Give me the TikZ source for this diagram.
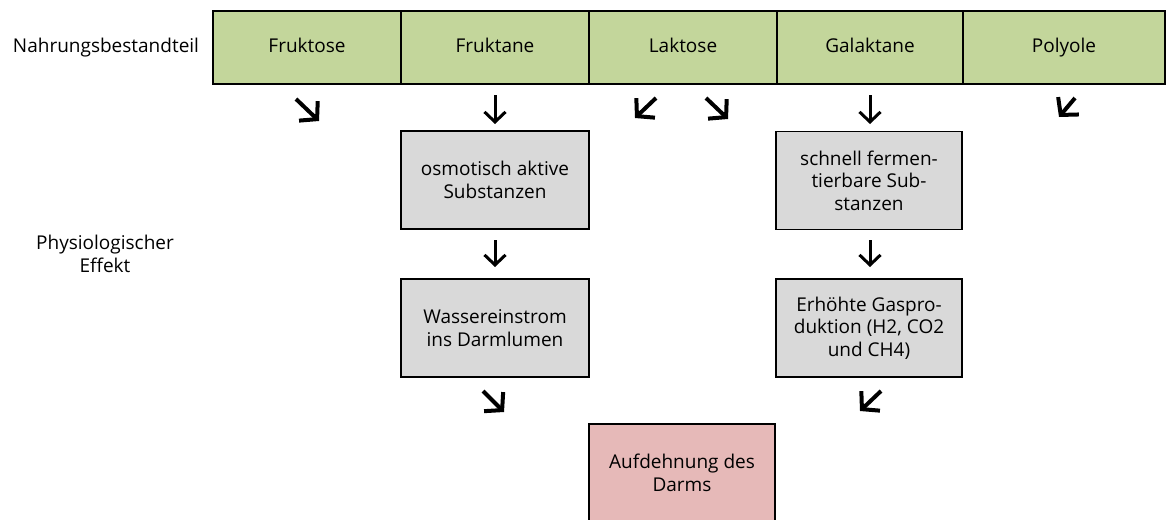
\documentclass[tikz,border=0pt]{standalone}
\usepackage{fontspec}
\setmainfont{Open Sans}
\usetikzlibrary{arrows.meta}
\definecolor{grn}{HTML}{C3D69B}
\definecolor{gry}{HTML}{D9D9D9}
\definecolor{pnk}{HTML}{E6B9B8}
\begin{document}
\begin{tikzpicture}[x=1pt,y=-1pt,
  txt/.style={font=\fontsize{19}{22.5}\selectfont, align=center, inner sep=0pt},
  cell/.style={font=\fontsize{19}{22.5}\selectfont, inner sep=0pt, text height=13.5pt, text depth=4pt, draw=black, line width=1.5pt, fill=grn, minimum height=73pt, minimum width=188pt},
  graybox/.style={txt, draw=black, line width=1.5pt, fill=gry, minimum height=98pt, minimum width=188pt},
  pinkbox/.style={txt, draw=black, line width=1.5pt, fill=pnk, minimum height=98pt, minimum width=186pt},
  arr/.style={line width=3pt, -{Straight Barb[length=10pt,width=21pt]}},
  darr/.style={line width=4pt, -{Straight Barb[length=12pt,width=27pt]}}]
\useasboundingbox (0,0) rectangle (1166,519);
% top row
\node[cell] (fru) at (307,47.5) {Fruktose};
\node[cell] (frk) at (495,47.5) {Fruktane};
\node[cell] (lak) at (683,47.5) {Laktose};
\node[cell, minimum width=186pt] (gal) at (870,47.5) {Galaktane};
\node[cell, minimum width=202pt] (pol) at (1064,47.5) {Polyole};
% row labels
\node[txt, text height=13.5pt, text depth=4pt] (lab1) at (106,48) {Nahrungsbestandteil};
\node[txt] (lab2) at (105,254) {Physiologischer\\Effekt};
% grey boxes
\node[graybox] (osm) at (495,180) {osmotisch aktive\\Substanzen};
\node[graybox] (was) at (495,328) {Wassereinstrom\\ins Darmlumen};
\node[graybox, minimum width=186pt] (fer) at (869,180.5) {schnell fermen-\\tierbare Sub-\\stanzen};
\node[graybox, minimum width=186pt] (gas) at (869,328) {Erhöhte Gaspro-\\duktion (H2, CO2\\und CH4)};
\node[pinkbox] (auf) at (682,473) {Aufdehnung des\\Darms};
% arrow coordinates
\coordinate (a1s) at (296,99);  \coordinate (a1e) at (319,121);
\coordinate (a2s) at (495,95);  \coordinate (a2e) at (495,124);
\coordinate (a3s) at (656,98);  \coordinate (a3e) at (635,118);
\coordinate (a4s) at (706,98);  \coordinate (a4e) at (728,119);
\coordinate (a5s) at (870,95);  \coordinate (a5e) at (870,124);
\coordinate (a6s) at (1075,98); \coordinate (a6e) at (1059,117);
\coordinate (a7s) at (495,240); \coordinate (a7e) at (495,267);
\coordinate (a8s) at (870,240); \coordinate (a8e) at (870,267);
\coordinate (a9s) at (483,391); \coordinate (a9e) at (504,412);
\coordinate (a10s) at (881,391); \coordinate (a10e) at (860,411);
\foreach \i in {2,5,7,8} {\draw[arr] (a\i s) -- (a\i e);}
\foreach \i in {1,3,4,6,9,10} {\draw[darr] (a\i s) -- (a\i e);}
\end{tikzpicture}
\end{document}
